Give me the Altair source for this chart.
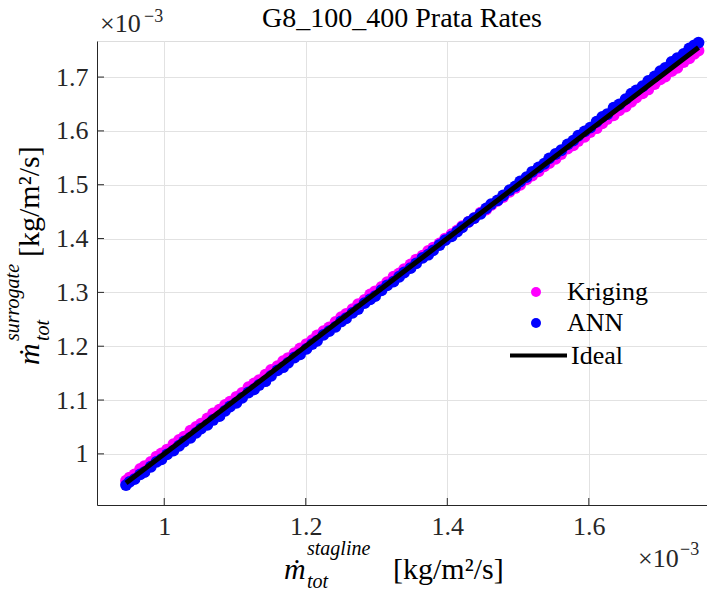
import altair as alt
import pandas as pd

FONT = "'Liberation Serif', 'DejaVu Serif', serif"
AX = "#262626"

# values in units of 1e-3 kg/m^2/s (axes carry the x10^-3 multiplier)
x_true = [
    0.946, 0.951, 0.958, 0.966, 0.972, 0.981, 0.989, 0.996, 1.004, 1.013,
    1.021, 1.028, 1.037, 1.045, 1.052, 1.061, 1.069, 1.078, 1.086, 1.093,
    1.102, 1.110, 1.119, 1.127, 1.134, 1.143, 1.151, 1.160, 1.168, 1.175,
    1.184, 1.192, 1.201, 1.209, 1.216, 1.225, 1.233, 1.242, 1.250, 1.257,
    1.266, 1.274, 1.283, 1.291, 1.298, 1.307, 1.315, 1.324, 1.332, 1.339,
    1.348, 1.356, 1.365, 1.373, 1.380, 1.389, 1.397, 1.406, 1.414, 1.421,
    1.430, 1.438, 1.447, 1.455, 1.462, 1.471, 1.479, 1.488, 1.496, 1.503,
    1.512, 1.520, 1.529, 1.537, 1.544, 1.553, 1.561, 1.570, 1.578, 1.585,
    1.594, 1.602, 1.611, 1.619, 1.626, 1.635, 1.643, 1.652, 1.660, 1.667,
    1.676, 1.684, 1.693, 1.701, 1.708, 1.717, 1.725, 1.734, 1.742, 1.749,
    1.755,
]
y_kriging = [
    0.950, 0.956, 0.962, 0.972, 0.977, 0.985, 0.995, 1.001, 1.008, 1.018,
    1.026, 1.032, 1.043, 1.050, 1.056, 1.066, 1.075, 1.082, 1.091, 1.097,
    1.106, 1.113, 1.124, 1.131, 1.137, 1.147, 1.156, 1.163, 1.172, 1.178,
    1.187, 1.196, 1.204, 1.211, 1.220, 1.228, 1.235, 1.245, 1.254, 1.260,
    1.269, 1.278, 1.286, 1.296, 1.302, 1.310, 1.319, 1.329, 1.335, 1.343,
    1.352, 1.361, 1.368, 1.377, 1.383, 1.391, 1.400, 1.408, 1.415, 1.423,
    1.431, 1.438, 1.448, 1.454, 1.462, 1.470, 1.477, 1.487, 1.494, 1.500,
    1.510, 1.517, 1.525, 1.534, 1.540, 1.548, 1.557, 1.567, 1.573, 1.581,
    1.589, 1.598, 1.605, 1.614, 1.622, 1.629, 1.638, 1.645, 1.654, 1.662,
    1.670, 1.677, 1.687, 1.696, 1.701, 1.711, 1.717, 1.728, 1.735, 1.743,
    1.749,
]
y_ann = [
    0.942, 0.948, 0.953, 0.962, 0.966, 0.976, 0.985, 0.990, 0.999, 1.006,
    1.015, 1.023, 1.030, 1.039, 1.047, 1.054, 1.063, 1.070, 1.080, 1.088,
    1.095, 1.104, 1.114, 1.120, 1.128, 1.135, 1.145, 1.155, 1.161, 1.169,
    1.179, 1.185, 1.195, 1.204, 1.210, 1.221, 1.228, 1.236, 1.246, 1.252,
    1.262, 1.269, 1.280, 1.287, 1.293, 1.304, 1.313, 1.320, 1.329, 1.337,
    1.345, 1.354, 1.364, 1.370, 1.378, 1.388, 1.397, 1.404, 1.413, 1.421,
    1.431, 1.438, 1.446, 1.456, 1.464, 1.471, 1.480, 1.490, 1.497, 1.506,
    1.514, 1.524, 1.532, 1.539, 1.549, 1.557, 1.564, 1.575, 1.582, 1.591,
    1.599, 1.606, 1.617, 1.626, 1.631, 1.643, 1.649, 1.659, 1.669, 1.675,
    1.683, 1.693, 1.701, 1.711, 1.717, 1.728, 1.735, 1.743, 1.753, 1.759,
    1.764,
]
ideal = [0.946, 1.755]
x_ticks = [1.0, 1.2, 1.4, 1.6]
y_ticks = [1.0, 1.1, 1.2, 1.3, 1.4, 1.5, 1.6, 1.7]
series = ["Kriging", "ANN", "Ideal"]
colors = ["#ff00ff", "#0000ff", "#000000"]
x_range = [0.905, 1.767]
y_range = [0.905, 1.767]

W, H = 610, 464

df_k = pd.DataFrame({"x": x_true, "y": y_kriging, "Series": series[0]})
df_a = pd.DataFrame({"x": x_true, "y": y_ann, "Series": series[1]})
df_i = pd.DataFrame({"x": ideal, "y": ideal, "Series": series[2]})

axis_common = dict(
    ticks=False, grid=True, gridColor="#e2e2e2", gridWidth=1,
    domainColor=AX, domainWidth=1, labelFont=FONT, labelFontSize=26,
    labelColor=AX, format="~g", title=None,
)
xenc = alt.X("x:Q", scale=alt.Scale(domain=x_range, nice=False, zero=False),
             axis=alt.Axis(values=x_ticks, labelPadding=8, **axis_common))
yenc = alt.Y("y:Q", scale=alt.Scale(domain=y_range, nice=False, zero=False),
             axis=alt.Axis(values=y_ticks, labelPadding=9, **axis_common))

pt_legend = alt.Legend(
    title=None, orient="none", legendX=426, legendY=238, padding=0,
    labelFont=FONT, labelFontSize=26, labelColor="#000", labelOffset=18,
    symbolType="circle", symbolSize=100, symbolStrokeWidth=0, symbolOpacity=1,
    rowPadding=5,
)
ln_legend = alt.Legend(
    title=None, orient="none", legendX=411, legendY=284, padding=0,
    labelFont=FONT, labelFontSize=26, labelColor="#000", labelOffset=2,
    symbolType="stroke", symbolSize=3249, symbolStrokeWidth=4, symbolOpacity=1,
)
fill = alt.Fill("Series:N", scale=alt.Scale(domain=series[:2], range=colors[:2]),
                legend=pt_legend)
stroke = alt.Stroke("Series:N", scale=alt.Scale(domain=series[2:], range=colors[2:]),
                    legend=ln_legend)

kr = alt.Chart(df_k).mark_circle(size=140, opacity=1).encode(x=xenc, y=yenc, fill=fill)
an = alt.Chart(df_a).mark_circle(size=140, opacity=1).encode(x=xenc, y=yenc, fill=fill)
ln = alt.Chart(df_i).mark_line(strokeWidth=5).encode(x=xenc, y=yenc, stroke=stroke)

xt = alt.Chart(pd.DataFrame({"x": x_ticks})).mark_tick(
    orient="vertical", size=7, thickness=1, color=AX, opacity=1
).encode(x=xenc, y=alt.value(H - 3.5))
yt = alt.Chart(pd.DataFrame({"y": y_ticks})).mark_tick(
    orient="horizontal", size=7, thickness=1, color=AX, opacity=1
).encode(y=yenc, x=alt.value(3.5))


def label(text, x, y, size, style="normal", angle=0, align="left", col="#000"):
    return alt.Chart(alt.Data(values=[{}])).mark_text(
        text=text, font=FONT, fontSize=size, fontStyle=style, angle=angle,
        align=align, baseline="alphabetic", color=col,
    ).encode(x=alt.value(x), y=alt.value(y))


texts = [
    label("G8_100_400 Prata Rates", 305, -14, 28, align="center"),
    label("×10", 3, -9, 26, col=AX),
    label("−3", 47, -19, 18, col=AX),
    label("×10", 541, 526, 26, col=AX),
    label("−3", 583, 514, 18, col=AX),
    label("ṁ", 187, 538, 30, style="italic"),
    label("stagline", 210, 514, 20, style="italic"),
    label("tot", 210, 547, 20, style="italic"),
    label("[kg/m²/s]", 296, 538, 30),
    label("ṁ", -58, 324, 30, style="italic", angle=270),
    label("surrogate", -78, 300, 20, style="italic", angle=270),
    label("tot", -48, 300, 20, style="italic", angle=270),
    label("[kg/m²/s]", -58, 216, 30, angle=270),
]

chart = alt.layer(kr, an, ln, xt, yt, *texts).properties(
    width=W, height=H,
    padding={"left": 97, "top": 41, "right": 0, "bottom": 87},
    autosize=alt.AutoSizeParams(type="none"),
).configure_view(stroke=None).configure(background="white")

chart.save("out.html", embed_options={"renderer": "svg", "actions": False})
